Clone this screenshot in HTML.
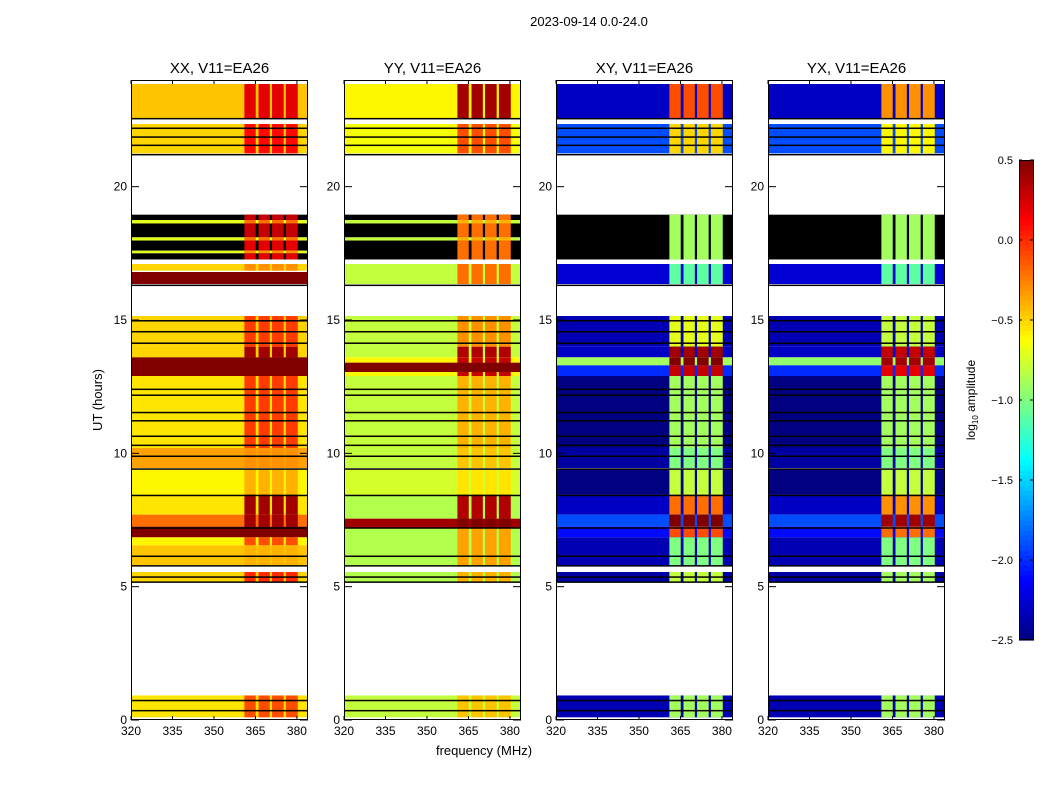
<!DOCTYPE html>
<html><head><meta charset="utf-8"><style>
body{margin:0;background:#fff}
svg text{font-family:"Liberation Sans","DejaVu Sans",sans-serif}
</style></head><body>
<svg id="chart" width="1050" height="800" viewBox="0 0 1050 800" xmlns="http://www.w3.org/2000/svg">
<rect width="1050" height="800" fill="#fff"/>
<text x="589" y="26" font-size="13" text-anchor="middle">2023-09-14 0.0-24.0</text>
<text transform="translate(102,400) rotate(-90)" font-size="13" text-anchor="middle">UT (hours)</text>
<text x="484" y="755" font-size="13" text-anchor="middle">frequency (MHz)</text>
<g id="panels"></g>
<g id="cbar"></g>
</svg>
<script>
const panelTitles = ["XX, V11=EA26","YY, V11=EA26","XY, V11=EA26","YX, V11=EA26"];
const xTicks = [320,335,350,365,380];
const yTicks = [0,5,10,15,20];
const cbarTicks = [0.5,0.0,-0.5,-1.0,-1.5,-2.0,-2.5];
const subBands = [[361,365.1],[366.1,370.2],[371,375.2],[376,380.3]];
// segments: [t0, t1, offBandValue, inBandValue]; -9 => flagged (black)
const segXX = [[23.85,22.55,-0.45,0.2],[22.35,21.25,-0.5,0.1],[18.95,18.75,-9,0.3],[18.75,18.62,-0.7,-0.2],[18.62,18.1,-9,0.3],[18.1,17.98,-0.7,-0.2],[17.98,17.6,-9,0.2],[17.6,17.5,-0.7,-0.3],[17.5,17.27,-9,0.2],[17.1,16.85,-0.5,-0.3],[16.8,16.35,0.5,0.5],[15.15,14.0,-0.5,-0.05],[14.0,13.6,-0.5,0.4],[13.6,12.9,0.5,0.5],[12.9,10.2,-0.55,-0.05],[10.2,9.45,-0.35,-0.3],[9.4,8.45,-0.6,-0.4],[8.45,7.7,-0.55,0.4],[7.7,7.25,-0.2,0.4],[7.25,6.85,0.5,0.5],[6.85,6.55,-0.6,-0.1],[6.55,5.8,-0.45,-0.4],[5.55,5.17,-0.5,0.0],[0.92,0.1,-0.55,-0.1]];
const segYY = [[23.85,22.55,-0.6,0.4],[22.35,21.25,-0.65,-0.1],[18.95,18.75,-9,-0.2],[18.75,18.62,-0.8,-0.4],[18.62,18.1,-9,-0.2],[18.1,17.98,-0.8,-0.4],[17.98,17.27,-9,-0.2],[17.1,16.35,-0.8,-0.2],[15.15,14.0,-0.8,-0.3],[14.0,13.6,-0.8,0.35],[13.6,13.4,-0.6,0.3],[13.4,13.05,0.5,0.5],[13.05,12.9,-0.6,0.3],[12.9,10.2,-0.8,-0.4],[10.2,9.45,-0.8,-0.45],[9.4,8.45,-0.75,-0.55],[8.45,7.55,-0.85,0.35],[7.55,7.2,0.4,0.5],[7.2,5.8,-0.85,-0.35],[5.55,5.17,-0.85,-0.4],[0.92,0.1,-0.8,-0.45]];
const segXY = [[23.85,22.55,-2.3,-0.1],[22.35,21.25,-1.9,-0.5],[18.95,17.27,-9,-0.9],[17.1,16.35,-2.25,-1.1],[15.15,14.0,-2.35,-0.7],[14.0,13.6,-2.3,0.4],[13.6,13.3,-0.9,0.5],[13.3,12.9,-2.0,0.3],[12.9,10.2,-2.5,-0.9],[10.2,9.45,-2.4,-1.0],[9.4,8.45,-2.5,-0.8],[8.45,7.7,-2.3,-0.2],[7.7,7.25,-1.9,0.5],[7.25,6.85,-2.1,-0.1],[6.85,5.8,-2.35,-1.0],[5.55,5.17,-2.4,-0.8],[0.92,0.1,-2.35,-0.9]];
const segYX = [[23.85,22.55,-2.3,-0.3],[22.35,21.25,-1.9,-0.6],[18.95,17.27,-9,-0.9],[17.1,16.35,-2.25,-1.1],[15.15,14.0,-2.35,-0.8],[14.0,13.6,-2.3,0.3],[13.6,13.3,-0.95,0.4],[13.3,12.9,-2.0,0.2],[12.9,10.2,-2.5,-0.9],[10.2,9.45,-2.4,-1.0],[9.4,8.45,-2.5,-0.8],[8.45,7.7,-2.3,-0.3],[7.7,7.25,-1.9,0.4],[7.25,6.85,-2.1,-0.2],[6.85,5.8,-2.35,-1.0],[5.55,5.17,-2.4,-0.9],[0.92,0.1,-2.35,-0.9]];
const blackLines = [22.55,22.19,21.86,21.55,21.2,16.3,14.97,14.56,14.13,12.4,12.18,11.53,11.22,10.64,10.3,9.89,9.41,8.42,7.2,6.14,5.78,5.36,5.17,0.73,0.35];
const panelSegs = [segXX,segYY,segXY,segYX];
const panelX = [131,344,556,768];

const NS="http://www.w3.org/2000/svg";
const PW=177, PT=80, PB=720, FMIN=320, FMAX=384, TMIN=0, TMAX=24, VMIN=-2.5, VMAX=0.5;
function el(tag,attrs,parent){const e=document.createElementNS(NS,tag);for(const k in attrs)e.setAttribute(k,attrs[k]);parent.appendChild(e);return e;}
function jet(v){
  if(v<-5) return "#000";
  let n=Math.max(0,Math.min(1,(v-VMIN)/(VMAX-VMIN)));
  const f=x=>Math.round(255*Math.max(0,Math.min(1,x)));
  const r=f(Math.min(4*n-1.5,-4*n+4.5)), g=f(Math.min(4*n-0.5,-4*n+3.5)), b=f(Math.min(4*n+0.5,-4*n+2.5));
  return `rgb(${r},${g},${b})`;
}
const yScale=t=>PB-(t-TMIN)/(TMAX-TMIN)*(PB-PT);
const root=document.getElementById('panels');
panelSegs.forEach((segs,pi)=>{
  const x0=panelX[pi];
  const xScale=f=>x0+(f-FMIN)/(FMAX-FMIN)*PW;
  const g=el('g',{},root);
  
  
  segs.forEach(s=>{
    const y1=yScale(s[0]), y2=yScale(s[1]);
    const r=el('rect',{x:x0,y:y1,width:PW,height:y2-y1,fill:jet(s[2])},g);
    
    
    subBands.forEach(b=>{
      const c=el('rect',{x:xScale(b[0]),y:y1,width:xScale(b[1])-xScale(b[0]),height:y2-y1,fill:jet(s[3])},g);
      
      
    });
  });
  blackLines.forEach(t=>{
    const l=el('rect',{x:x0,y:yScale(t)-0.75,width:PW,height:1.5,fill:'#000'},g);
    
    
  });
  const fr=el('rect',{x:x0+0.5,y:PT+0.5,width:PW-1,height:PB-PT-1,fill:'none',stroke:'#000','stroke-width':1},g);
  
  
  const tt=el('text',{x:x0+PW/2,y:73,'font-size':15,'text-anchor':'middle'},g);
  tt.textContent=panelTitles[pi];
  
  
  xTicks.forEach(v=>{
    const x=xScale(v);
    el('line',{x1:x,x2:x,y1:PB,y2:PB-4,stroke:'#000'},g);
    el('line',{x1:x,x2:x,y1:PT,y2:PT+4,stroke:'#000'},g);
    const t=el('text',{x:x,y:PB+15,'font-size':12,'text-anchor':'middle'},g);
    t.textContent=v;
    
    
  });
  yTicks.forEach(v=>{
    const y=yScale(v);
    el('line',{x1:x0,x2:x0+8,y1:y,y2:y,stroke:'#000'},g);
    el('line',{x1:x0+PW,x2:x0+PW-8,y1:y,y2:y,stroke:'#000'},g);
    const t=el('text',{x:x0-4,y:y+4,'font-size':12,'text-anchor':'end'},g);
    t.textContent=v;
    
    
  });
});
// colorbar
const cb=document.getElementById('cbar');
const CX=1019,CW=15,CT=160,CBt=640;
const cv=v=>CBt-(v-VMIN)/(VMAX-VMIN)*(CBt-CT);
for(let i=0;i<96;i++){
  const v=VMIN+(i+0.5)*(VMAX-VMIN)/96;
  const h=(CBt-CT)/96;
  const r=el('rect',{x:CX,y:CBt-(i+1)*h,width:CW,height:h+0.6,fill:jet(v)},cb);
  
  
}
const cf=el('rect',{x:CX+0.5,y:CT+0.5,width:CW-1,height:CBt-CT-1,fill:'none',stroke:'#000'},cb);


cbarTicks.forEach(v=>{
  const y=cv(v);
  el('line',{x1:CX+CW,x2:CX+CW-4,y1:y,y2:y,stroke:'#000'},cb);
  el('line',{x1:CX,x2:CX+3,y1:y,y2:y,stroke:'#000'},cb);
  const t=el('text',{x:1013,y:y+4,'font-size':11,'text-anchor':'end'},cb);
  t.textContent=(v<0?'\u2212':'')+Math.abs(v).toFixed(1);
  
  
});
const cl=el('text',{transform:'translate(975,400) rotate(-90)','font-size':12,'text-anchor':'middle'},cb);
cl.innerHTML='log<tspan font-size="8" dy="3">10</tspan><tspan dy="-3"> amplitude</tspan>';


</script>
</body></html>
